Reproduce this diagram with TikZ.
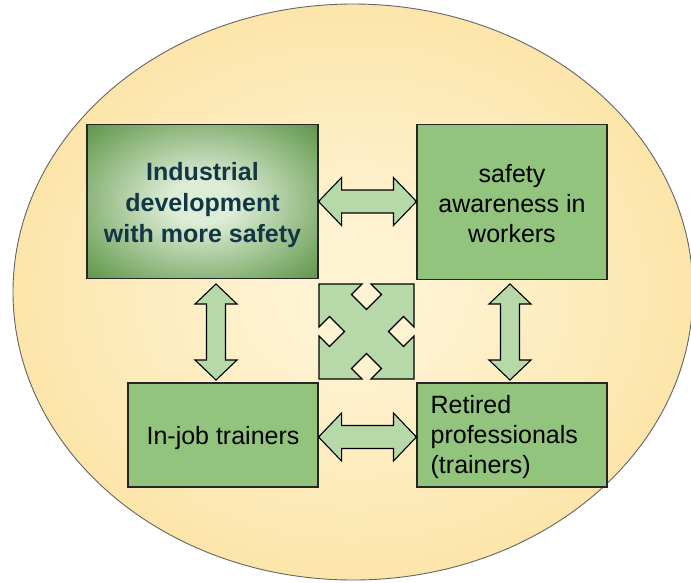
\documentclass[tikz,border=0pt]{standalone}
\usepackage{fontspec}
\setmainfont{Liberation Sans}
\usetikzlibrary{calc}
\definecolor{boxfill}{RGB}{146,196,125}
\definecolor{arrfill}{RGB}{183,216,169}
\definecolor{ellin}{RGB}{255,243,212}
\definecolor{ellmid}{RGB}{252,230,172}
\definecolor{ellout}{RGB}{249,213,122}
\definecolor{tlin}{RGB}{222,237,215}
\definecolor{tlmid}{RGB}{118,166,98}
\definecolor{tlout}{RGB}{58,114,40}
\definecolor{tltext}{RGB}{17,55,70}
\definecolor{ellborder}{RGB}{100,100,100}
\pgfdeclareradialshading{tlshade}{\pgfpoint{0bp}{0bp}}{color(0bp)=(tlin); color(7bp)=(tlin); color(30bp)=(tlmid); color(46bp)=(tlout); color(72bp)=(tlout)}
\pgfdeclareradialshading{ellshade}{\pgfpoint{0bp}{0bp}}{color(0bp)=(ellin); color(5bp)=(ellin); color(24bp)=(ellmid); color(44bp)=(ellout); color(72bp)=(ellout)}
\tikzset{
  greenbox/.style={draw=black!85, line width=1.1pt, fill=boxfill, minimum width=190pt, minimum height=104pt, inner sep=0pt},
  boxtext/.style={font=\fontsize{25}{30}\selectfont, align=center, inner sep=0pt},
  arr/.style={draw=black, line width=1.1pt, fill=arrfill, line join=miter},
}
\newcommand\hdarrow[2]{%
  \path[arr] let \p1=(#1), \p2=(#2) in
    (\x1,\y1) -- (\x1+23pt,\y1+24pt) -- (\x1+23pt,\y1+11.5pt) -- (\x2-23pt,\y1+11.5pt)
    -- (\x2-23pt,\y1+24pt) -- (\x2,\y1) -- (\x2-23pt,\y1-24pt) -- (\x2-23pt,\y1-11.5pt)
    -- (\x1+23pt,\y1-11.5pt) -- (\x1+23pt,\y1-24pt) -- cycle;}
\newcommand\vdarrow[2]{%
  \path[arr] let \p1=(#1), \p2=(#2) in
    (\x1,\y1) -- (\x1+21pt,\y1-20pt) -- (\x1+9.5pt,\y1-20pt) -- (\x1+9.5pt,\y2+20pt)
    -- (\x1+21pt,\y2+20pt) -- (\x1,\y2) -- (\x1-21pt,\y2+20pt) -- (\x1-9.5pt,\y2+20pt)
    -- (\x1-9.5pt,\y1-20pt) -- (\x1-21pt,\y1-20pt) -- cycle;}
\begin{document}
\begin{tikzpicture}[x=1pt,y=-1pt]
\useasboundingbox (0,0) rectangle (691,582);
\begin{scope}
\clip (0,0) rectangle (691,582);
\path[shading=ellshade] (353,292) ellipse [x radius=340, y radius=288];
\draw[ellborder, line width=0.9pt] (353,292) ellipse [x radius=340, y radius=288];
\end{scope}
% boxes
\node[draw=black!85, line width=1.1pt, shading=tlshade, minimum width=231pt, minimum height=154pt, inner sep=0pt] (tl) at (202.5,201.5) {};
\node[boxtext, font=\fontsize{25}{31}\selectfont\bfseries, text=tltext] (tltxt) at ($(tl.center)+(0,4)$) {Industrial\\development\\with more safety};
\node[greenbox, minimum height=155pt] (tr) at (512,202) {};
\node[boxtext] (trtxt) at ($(tr.center)+(0,2)$) {safety\\awareness in\\workers};
\node[greenbox] (bl) at (223,435) {};
\node[boxtext] (bltxt) at ($(bl.center)+(0,3)$) {In-job trainers};
\node[greenbox] (br) at (512,435) {};
\node[boxtext, align=left, anchor=west] (brtxt) at ($(br.west)+(14,2)$) {Retired\\professionals\\(trainers)};
% arrows
\hdarrow{tl.east}{tr.west}
\coordinate (bh1) at ($(bl.east)+(0,2)$);
\coordinate (bh2) at ($(br.west)+(0,2)$);
\hdarrow{bh1}{bh2}
\coordinate (lv1) at (216,284);
\coordinate (lv2) at (216,380);
\vdarrow{lv1}{lv2}
\coordinate (rv1) at (510,284);
\coordinate (rv2) at (510,380);
\vdarrow{rv1}{rv2}
% center quad shape
\coordinate (ctr) at (366.5,331.5);
\begin{scope}[shift={(ctr)}]
\path[arr] (-47.5,-47.5) -- (-4.5,-47.5) -- (-15,-37) -- (0,-22) -- (15,-37) -- (4.5,-47.5)
 -- (47.5,-47.5) -- (47.5,-4.5) -- (37,-15) -- (22,0) -- (37,15) -- (47.5,4.5)
 -- (47.5,47.5) -- (4.5,47.5) -- (15,37) -- (0,22) -- (-15,37) -- (-4.5,47.5)
 -- (-47.5,47.5) -- (-47.5,4.5) -- (-37,15) -- (-22,0) -- (-37,-15) -- (-47.5,-4.5) -- cycle;
\end{scope}
\end{tikzpicture}
\end{document}
